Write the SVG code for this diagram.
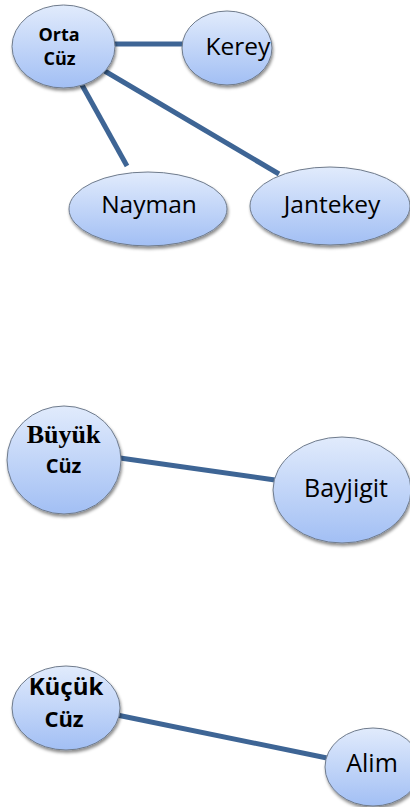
<svg xmlns="http://www.w3.org/2000/svg" width="410" height="807" viewBox="0 0 410 807">
  <defs>
    <linearGradient id="bubble" x1="0" y1="0" x2="0" y2="1">
      <stop offset="0" stop-color="#e1ebfc"/>
      <stop offset="1" stop-color="#a2bff4"/>
    </linearGradient>
    <filter id="shadow" x="-20%" y="-20%" width="140%" height="150%">
      <feDropShadow dx="1" dy="2.5" stdDeviation="1.6" flood-color="#000" flood-opacity="0.45"/>
    </filter>
  </defs>
  <style>
    .node ellipse { fill: url(#bubble); stroke: #6f7b8c; stroke-width: 1; filter: url(#shadow); }
    .label { font-family: "Open Sans", "Liberation Sans", sans-serif; fill: #000; text-anchor: middle; }
    .head { font-family: "Open Sans", "Liberation Sans", sans-serif; font-weight: bold; fill: #000; text-anchor: middle; }
    .head.serif { font-family: "Liberation Serif", "Times New Roman", serif; }
    #connectors line { stroke: #3e6595; stroke-width: 5; }
  </style>
  <rect width="410" height="807" fill="#fff"/>

  <g id="connectors">
    <line x1="112" y1="44" x2="184" y2="44"/>
    <line x1="82" y1="85" x2="127" y2="166"/>
    <line x1="103" y1="70" x2="279" y2="174"/>
    <line x1="120" y1="458" x2="275" y2="480"/>
    <line x1="117" y1="715" x2="327" y2="758"/>
  </g>

  <g id="orta-cuz" class="node">
    <ellipse cx="63.5" cy="46.5" rx="51.5" ry="41.5"/>
    <text class="head" x="59" y="40.5" style="font-size:18px">Orta</text>
    <text class="head" x="59.5" y="64.5" style="font-size:18px">Cüz</text>
  </g>
  <g id="kerey" class="node">
    <ellipse cx="227" cy="48" rx="45" ry="37"/>
    <text class="label" x="238" y="55" style="font-size:24.5px">Kerey</text>
  </g>
  <g id="nayman" class="node">
    <ellipse cx="148" cy="209" rx="79" ry="37"/>
    <text class="label" x="149" y="213" style="font-size:24.5px">Nayman</text>
  </g>
  <g id="jantekey" class="node">
    <ellipse cx="330" cy="206" rx="80" ry="39"/>
    <text class="label" x="332" y="213" style="font-size:24.5px">Jantekey</text>
  </g>

  <g id="buyuk-cuz" class="node">
    <ellipse cx="64" cy="460" rx="57" ry="54"/>
    <text class="head serif" x="63.5" y="443" style="font-size:26px">Büyük</text>
    <text class="head" x="63.5" y="473" style="font-size:20px">Cüz</text>
  </g>
  <g id="bayjigit" class="node">
    <ellipse cx="342" cy="490" rx="69" ry="53"/>
    <text class="label" x="346" y="497" style="font-size:25px">Bayjigit</text>
  </g>

  <g id="kucuk-cuz" class="node">
    <ellipse cx="66" cy="708" rx="54" ry="42"/>
    <text class="head" x="66" y="695" style="font-size:24px">Küçük</text>
    <text class="head" x="64" y="727" style="font-size:22px">Cüz</text>
  </g>
  <g id="alim" class="node">
    <ellipse cx="373" cy="767" rx="48" ry="39"/>
    <text class="label" x="372" y="772" style="font-size:25px">Alim</text>
  </g>
</svg>
